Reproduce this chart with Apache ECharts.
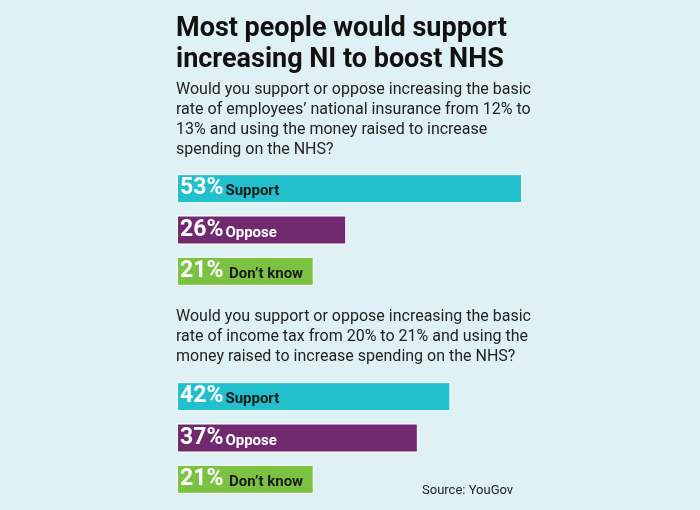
<!DOCTYPE html>
<html><head><meta charset="utf-8">
<script src="https://cdn.jsdelivr.net/npm/echarts@6/dist/echarts.min.js"></script>
<style>html,body{margin:0;padding:0;background:#e0f1f6}#c{width:700px;height:510px}</style>
</head><body><div id="c"></div>
<script>
const categories = ['Support', 'Oppose', "Don\u2019t know"];
const niValues = [53, 26, 21];
const taxValues = [42, 37, 21];
const colors = ['#22bfcc', '#722a6e', '#7cc242'];
const nameColors = ['#1a1a1a', '#ffffff', '#1a1a1a'];
const F = 'Roboto, "Liberation Sans", sans-serif';

function seriesFor(vals, idx) {
  return {
    type: 'bar', xAxisIndex: idx, yAxisIndex: idx, barWidth: 29,
    data: vals.map((v, i) => ({
      value: v,
      itemStyle: {color: colors[i], borderColor: '#ffffff', borderWidth: 1},
      label: {rich: {p: {fontSize: 23, fontWeight: 'bold', color: '#fff', fontFamily: F},
                     n: {fontSize: 15, fontWeight: 'bold', color: nameColors[i], fontFamily: F, padding: [6, 0, 0, 2]}}}
    })),
    label: {show: true, position: 'insideLeft', offset: [-2, 0],
      formatter: p => '{p|' + p.value + '%}{n|' + (i => (i===2 ? ' ' : '') + categories[i])(p.dataIndex) + '}'},
    animation: false
  };
}
const chart = echarts.init(document.getElementById('c'));
const axX = i => ({gridIndex: i, type: 'value', min: 0, max: 53, show: false});
const axY = i => ({gridIndex: i, type: 'category', data: categories, inverse: true, show: false});
chart.setOption({
  backgroundColor: '#e0f1f6',
  grid: [{left: 177, width: 345, top: 168, height: 124}, {left: 177, width: 345, top: 376, height: 124}],
  xAxis: [axX(0), axX(1)], yAxis: [axY(0), axY(1)],
  series: [seriesFor(niValues, 0), seriesFor(taxValues, 1)],
  graphic: [
    {type: 'text', left: 176, top: 14, style: {text: 'Most people would support\nincreasing NI to boost NHS', font: 'bold 27px ' + F, fill: '#111', lineHeight: 31}},
    {type: 'text', left: 176, top: 80, style: {text: 'Would you support or oppose increasing the basic\nrate of employees\u2019 national insurance from 12% to\n13% and using the money raised to increase\nspending on the NHS?', font: '16px ' + F, fill: '#222', lineHeight: 20}},
    {type: 'text', left: 176, top: 307, style: {text: 'Would you support or oppose increasing the basic\nrate of income tax from 20% to 21% and using the\nmoney raised to increase spending on the NHS?', font: '16px ' + F, fill: '#222', lineHeight: 20}},
    {type: 'text', left: 422, top: 484, style: {text: 'Source: YouGov', font: '13px ' + F, fill: '#222'}}
  ]
});
</script></body></html>
